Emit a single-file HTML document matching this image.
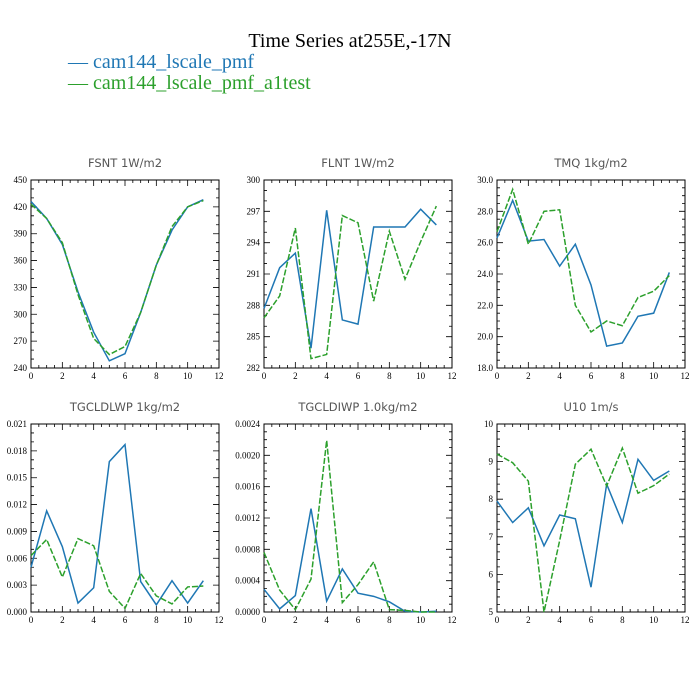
<!DOCTYPE html>
<html><head><meta charset="utf-8"><style>
body{margin:0;background:#fff;}
svg{display:block;}
</style></head><body>
<svg id="chart" width="700" height="700" xmlns="http://www.w3.org/2000/svg">
<text x="350" y="47" text-anchor="middle" font-family="Liberation Serif, serif" font-size="20" fill="#000">Time Series at255E,-17N</text>
<g>
<text x="68" y="68" font-family="Liberation Serif, serif" font-size="20" fill="#1f77b4">— cam144_lscale_pmf</text>
<text x="68" y="89" font-family="Liberation Serif, serif" font-size="20" fill="#2ca02c">— cam144_lscale_pmf_a1test</text>
</g>
</svg>
<script>
const xValues=[0,1,2,3,4,5,6,7,8,9,10,11];
const fsntA=[426,407,378,325,280,248,256,302,355,394,420,428];
const fsntB=[423,407,380,322,273,255,264,302,355,398,420,427];
const flntA=[287.7,291.6,293.0,283.9,297.1,286.6,286.2,295.5,295.5,295.5,297.2,295.7];
const flntB=[286.8,288.9,295.4,282.9,283.3,296.6,295.9,288.4,295.1,290.5,294.1,297.5];
const tmqA=[26.3,28.7,26.1,26.2,24.5,25.9,23.3,19.4,19.6,21.3,21.5,24.1];
const tmqB=[26.7,29.4,25.9,28.0,28.1,22.0,20.3,21.0,20.7,22.5,22.9,23.9];
const lwpA=[0.0050,0.0113,0.0073,0.0010,0.0027,0.0168,0.0187,0.0034,0.0008,0.0035,0.0010,0.0035];
const lwpB=[0.0063,0.0081,0.0039,0.0082,0.0074,0.0023,0.0004,0.0043,0.0018,0.0009,0.0028,0.0029];
const iwpA=[0.00029,0.00004,0.00021,0.00132,0.00014,0.00055,0.00024,0.00020,0.00013,0.00001,0.0,0.00001];
const iwpB=[0.00076,0.00028,0.00003,0.00042,0.00219,0.00012,0.00035,0.00064,0.00003,0.00002,0.0,0.0];
const u10A=[7.95,7.38,7.77,6.76,7.58,7.48,5.66,8.40,7.38,9.06,8.50,8.75];
const u10B=[9.20,8.97,8.48,5.0,6.90,8.93,9.33,8.35,9.36,8.16,8.36,8.67];
const xTickLabels=["0","2","4","6","8","10","12"];
const panels=[
 {name:"fsnt",title:"FSNT   1W/m2",a:fsntA,b:fsntB,ymin:240,ymax:450,step:30,minor:10,dec:0,x:31,y:180},
 {name:"flnt",title:"FLNT   1W/m2",a:flntA,b:flntB,ymin:282,ymax:300,step:3,minor:1,dec:0,x:264,y:180},
 {name:"tmq",title:"TMQ   1kg/m2",a:tmqA,b:tmqB,ymin:18,ymax:30,step:2,minor:0.5,dec:1,x:497,y:180},
 {name:"tgcldlwp",title:"TGCLDLWP   1kg/m2",a:lwpA,b:lwpB,ymin:0,ymax:0.021,step:0.003,minor:0.001,dec:3,x:31,y:424},
 {name:"tgcldiwp",title:"TGCLDIWP   1.0kg/m2",a:iwpA,b:iwpB,ymin:0,ymax:0.0024,step:0.0004,minor:0.0001,dec:4,x:264,y:424},
 {name:"u10",title:"U10   1m/s",a:u10A,b:u10B,ymin:5,ymax:10,step:1,minor:0.2,dec:0,x:497,y:424}
];
const NS="http://www.w3.org/2000/svg";
const svg=document.getElementById("chart");
const W=188,H=188;
function mk(tag,attrs,parent){const e=document.createElementNS(NS,tag);for(const k in attrs)e.setAttribute(k,attrs[k]);parent.appendChild(e);return e;}
panels.forEach(p=>{
 const g=mk("g",{},svg);
 
 
 const sx=v=>p.x+v/12*W;
 const sy=v=>p.y+H-(v-p.ymin)/(p.ymax-p.ymin)*H;
 const t=mk("text",{x:p.x+W/2,y:p.y-13,"text-anchor":"middle","font-family":"DejaVu Sans, sans-serif","font-size":"11.5","fill":"#555"},g);
 t.textContent=p.title;
 
 
 let d="";
 for(let i=0;i<=24;i++){const X=p.x+i*W/24;const L=(i%4==0)?6:3;d+=`M${X},${p.y+H}v${-L}M${X},${p.y}v${L}`;}
 const nMin=Math.round((p.ymax-p.ymin)/p.minor);const per=Math.round(p.step/p.minor);
 for(let i=0;i<=nMin;i++){const Y=p.y+H-i*H/nMin;const L=(i%per==0)?6:3;d+=`M${p.x},${Y}h${L}M${p.x+W},${Y}h${-L}`;}
 const ticks=mk("path",{d:d,stroke:"#000","stroke-width":"0.8",fill:"none"},g);
 
 
 const box=mk("rect",{x:p.x,y:p.y,width:W,height:H,fill:"none",stroke:"#000","stroke-width":"1"},g);
 
 
 xTickLabels.forEach(lbl=>{
  const tx=mk("text",{x:sx(+lbl),y:p.y+H+11,"text-anchor":"middle","font-family":"Liberation Serif, serif","font-size":"9"},g);
  tx.textContent=lbl;
  
  
 });
 const nMaj=Math.round((p.ymax-p.ymin)/p.step);
 for(let i=0;i<=nMaj;i++){const v=p.ymin+i*p.step;
  const ty=mk("text",{x:p.x-4,y:sy(v)+3,"text-anchor":"end","font-family":"Liberation Serif, serif","font-size":"9"},g);
  ty.textContent=v.toFixed(p.dec);
  
  
 }
 const pa=mk("polyline",{points:p.a.map((v,i)=>sx(xValues[i])+","+sy(v)).join(" "),fill:"none",stroke:"#1f77b4","stroke-width":"1.5"},g);
 
 
 const pb=mk("polyline",{points:p.b.map((v,i)=>sx(xValues[i])+","+sy(v)).join(" "),fill:"none",stroke:"#2ca02c","stroke-width":"1.5","stroke-dasharray":"6,2"},g);
 
 
});
</script>
</body></html>
